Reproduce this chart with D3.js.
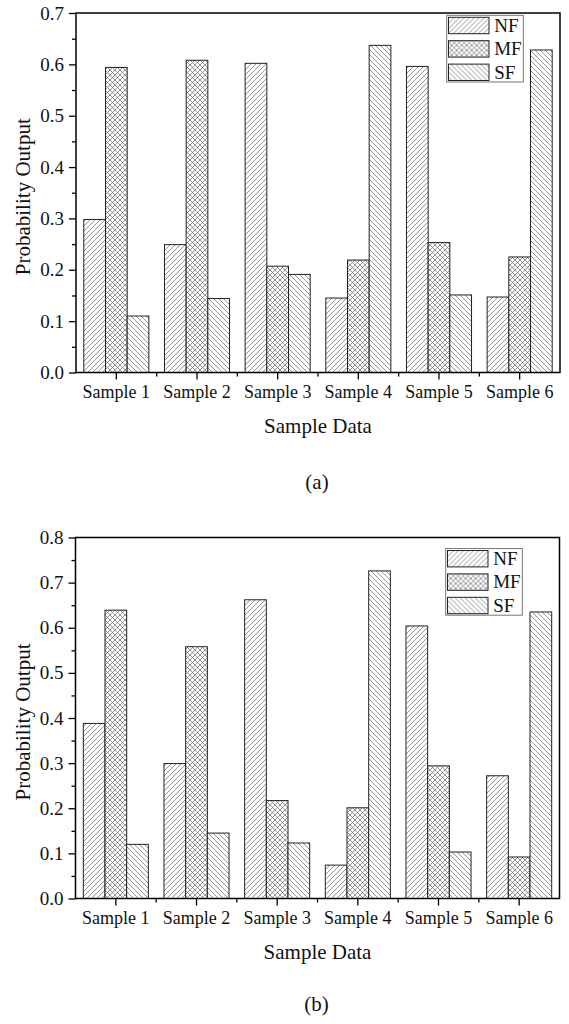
<!DOCTYPE html>
<html><head><meta charset="utf-8">
<script src="https://cdn.jsdelivr.net/npm/d3@7"></script>
<style>body{margin:0;background:#fff}svg{display:block}</style>
</head><body>
<svg id="c" width="569" height="1024"></svg>
<script>
const categories = ["Sample 1","Sample 2","Sample 3","Sample 4","Sample 5","Sample 6"];
const seriesNames = ["NF","MF","SF"];
// chart (a)
const nfA = [0.298,0.249,0.602,0.145,0.596,0.147];
const mfA = [0.594,0.608,0.207,0.219,0.253,0.225];
const sfA = [0.110,0.144,0.191,0.637,0.151,0.628];
const yTicksA = [0,0.1,0.2,0.3,0.4,0.5,0.6,0.7];
// chart (b)
const nfB = [0.388,0.299,0.662,0.074,0.604,0.272];
const mfB = [0.639,0.558,0.217,0.201,0.294,0.092];
const sfB = [0.120,0.145,0.123,0.726,0.103,0.635];
const yTicksB = [0,0.1,0.2,0.3,0.4,0.5,0.6,0.7,0.8];

const FONT = "Liberation Serif";
const svg = d3.select("#c").attr("font-family", FONT);
const defs = svg.append("defs");
function pat(id, d){
  const p = defs.append("pattern").attr("id",id).attr("patternUnits","userSpaceOnUse").attr("width",5).attr("height",5);
  p.append("rect").attr("width",5).attr("height",5).attr("fill","#fff");
  p.append("path").attr("d",d).attr("stroke","#666").attr("stroke-width",0.7).attr("fill","none");
}
pat("pNF","M-1,1 L1,-1 M0,5 L5,0 M4,6 L6,4");
pat("pSF","M-1,4 L1,6 M0,0 L5,5 M4,-1 L6,1");
pat("pMF","M-1,1 L1,-1 M0,5 L5,0 M4,6 L6,4 M-1,4 L1,6 M0,0 L5,5 M4,-1 L6,1");
const fills = ["url(#pNF)","url(#pMF)","url(#pSF)"];

function txt(sel){ return sel.attr("font-family",FONT).attr("fill","#111"); }

function chart(cfg){
  const {left,right,top,bottom,ymax,yTicks,series,legend,tickBase,titleBase,caption,capBase} = cfg;
  const g = svg.append("g");
  const x = d3.scaleBand().domain(categories).range([left,right]).paddingInner(0).paddingOuter(0);
  const xi = d3.scaleBand().domain(seriesNames).range([0,x.bandwidth()]).paddingInner(0).paddingOuter(0.36);
  const y = d3.scaleLinear().domain([0,ymax]).range([bottom,top]);

  seriesNames.forEach((s,si)=>{
    g.selectAll(null).data(series[si]).enter().append("rect")
      .attr("x",(d,i)=>x(categories[i])+xi(s))
      .attr("y",d=>y(d))
      .attr("width",xi.bandwidth())
      .attr("height",d=>y(0)-y(d))
      .attr("fill",fills[si]).attr("stroke","#222").attr("stroke-width",1);
  });

  g.append("rect").attr("x",left).attr("y",top).attr("width",right-left).attr("height",bottom-top)
    .attr("fill","none").attr("stroke","#000").attr("stroke-width",1.5);

  const yAx = d3.axisLeft(y).tickValues(yTicks).tickFormat(d3.format(".1f")).tickSize(7).tickPadding(5);
  const ya = g.append("g").attr("transform",`translate(${left},0)`).call(yAx);
  ya.attr("font-family",FONT);
  ya.select(".domain").remove();
  ya.selectAll("line").attr("stroke","#000").attr("stroke-width",1.3);
  txt(ya.selectAll("text")).attr("font-size",19);
  const minorY = d3.range(yTicks.length-1).map(i=>(yTicks[i]+yTicks[i+1])/2);
  const ym = g.append("g").attr("transform",`translate(${left},0)`)
    .call(d3.axisLeft(y).tickValues(minorY).tickSize(4).tickFormat(""));
  ym.select(".domain").remove();
  ym.selectAll("line").attr("stroke","#000").attr("stroke-width",1.3);

  const xAx = d3.axisBottom(x).tickSize(7).tickFormat("");
  const xa = g.append("g").attr("transform",`translate(0,${bottom})`).call(xAx);
  xa.select(".domain").remove();
  xa.selectAll("line").attr("stroke","#000").attr("stroke-width",1.3);
  txt(g.selectAll(null).data(categories).enter().append("text")
    .attr("x",d=>x(d)+x.bandwidth()/2).attr("y",tickBase).attr("text-anchor","middle")
    .attr("font-size",18).text(d=>d));
  const bounds = categories.slice(1).map(c=>x(c));
  g.selectAll(null).data(bounds).enter().append("line")
    .attr("x1",d=>d).attr("x2",d=>d).attr("y1",bottom).attr("y2",bottom+4)
    .attr("stroke","#000").attr("stroke-width",1.3);

  txt(g.append("text").attr("x",(left+right)/2).attr("y",titleBase).attr("text-anchor","middle")
    .attr("font-size",21).text("Sample Data"));
  txt(g.append("text").attr("transform",`translate(30,${(top+bottom)/2+4}) rotate(-90)`)
    .attr("text-anchor","middle").attr("font-size",21).text("Probability Output"));
  txt(g.append("text").attr("x",(left+right)/2-1).attr("y",capBase).attr("text-anchor","middle")
    .attr("font-size",21).text(caption));

  const lg = g.append("g").attr("transform",`translate(${legend[0]},${legend[1]})`);
  lg.append("rect").attr("width",76.6).attr("height",66.7).attr("fill","#fff").attr("stroke","#777").attr("stroke-width",1);
  seriesNames.forEach((s,i)=>{
    lg.append("rect").attr("x",1.8).attr("y",2+i*23.4).attr("width",40.5).attr("height",16.4)
      .attr("fill",fills[i]).attr("stroke","#222").attr("stroke-width",1);
    txt(lg.append("text").attr("x",47.5).attr("y",16.5+i*23.4).attr("font-size",19).text(s));
  });
}

chart({left:76,right:560,top:13,bottom:372.5,ymax:0.7,yTicks:yTicksA,series:[nfA,mfA,sfA],
  legend:[446.7,15.3],tickBase:398,titleBase:432.5,caption:"(a)",capBase:489});
chart({left:75.5,right:559.5,top:537.5,bottom:898.5,ymax:0.8,yTicks:yTicksB,series:[nfB,mfB,sfB],
  legend:[445.7,548.5],tickBase:924,titleBase:958.5,caption:"(b)",capBase:1011});
</script>
</body></html>
